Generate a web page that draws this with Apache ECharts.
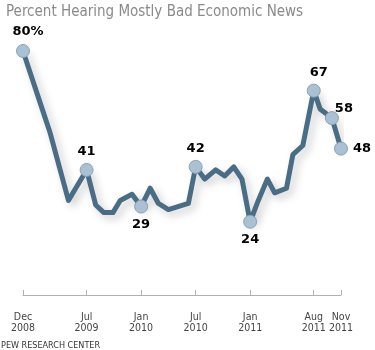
<!DOCTYPE html>
<html>
<head>
<meta charset="utf-8">
<script src="https://cdn.jsdelivr.net/npm/echarts@6/dist/echarts.min.js"></script>
<style>
html,body{margin:0;padding:0;background:#fff;}
#chart{width:375px;height:350px;}
</style>
</head>
<body>
<div id="chart"></div>
<script>
// Months since Dec 2008 (0 = Dec 2008, 35 = Nov 2011)
const months = [0, 1, 2, 3, 4, 5, 7, 8, 8.9, 9.9, 10.7, 12, 13, 14, 14.9, 16, 18.2, 19, 20, 21.2, 22.2, 23.2, 24.1, 25, 25.9, 26.9, 27.7, 29, 29.7, 30.8, 32, 32.7, 34, 35];
const values = [80, 71, 62, 53, 42, 31, 41, 29.5, 27, 27, 31, 33, 29, 35, 30, 28, 30, 42, 38, 41, 39, 42, 38, 24, 31, 38, 33.5, 35, 46, 49, 67, 61, 58, 48];
const tickMonths = [0, 7, 13, 19, 25, 32, 35];
const tickLabels = ['Dec\n2008', 'Jul\n2009', 'Jan\n2010', 'Jul\n2010', 'Jan\n2011', 'Aug\n2011', 'Nov\n2011'];
const labeledIdx = [0, 6, 12, 17, 23, 30, 32, 33];
const labelTexts = ['80%', '41', '29', '42', '24', '67', '58', '48'];

const labelPlacement = [
  {position: 'top', offset: [5, -2]},
  {position: 'top', offset: [0, -1]},
  {position: 'bottom', offset: [0, 1]},
  {position: 'top', offset: [0, -1]},
  {position: 'bottom', offset: [0, 0]},
  {position: 'top', offset: [5, -1]},
  {position: 'top', offset: [12, 8]},
  {position: 'right', offset: [1, 0]}
];

const lineData = months.map((m, i) => [m, values[i]]);
const pointData = labeledIdx.map((idx, k) => ({
  value: [months[idx], values[idx]],
  label: {
    show: true,
    formatter: labelTexts[k],
    position: labelPlacement[k].position,
    offset: labelPlacement[k].offset
  }
}));

const chart = echarts.init(document.getElementById('chart'), null, {renderer: 'canvas'});
chart.setOption({
  animation: false,
  backgroundColor: '#ffffff',
  title: {
    text: 'Percent Hearing Mostly Bad Economic News',
    left: 1, top: 0,
    textStyle: {fontFamily: 'DejaVu Sans Condensed', fontSize: 15, fontWeight: 'normal', color: '#8a8a8a'}
  },
  graphic: [{
    type: 'text', left: 1, top: 341,
    style: {text: 'PEW RESEARCH CENTER', fontFamily: 'DejaVu Sans Condensed', fontSize: 9, fill: '#333'}
  }],
  grid: {left: 23, right: 34, top: 51, bottom: 52},
  xAxis: {
    type: 'value', min: 0, max: 35,
    splitLine: {show: false},
    axisLine: {show: true, lineStyle: {color: '#b0b0b0', width: 1}},
    axisTick: {show: true, inside: true, length: 5, customValues: tickMonths, lineStyle: {color: '#b0b0b0'}},
    axisLabel: {
      customValues: tickMonths,
      formatter: v => tickLabels[tickMonths.indexOf(v)],
      margin: 14, lineHeight: 11,
      fontFamily: 'DejaVu Sans Condensed', fontSize: 10.5, color: '#444'
    }
  },
  yAxis: {
    type: 'value', min: -1, max: 80, show: false
  },
  series: [{
    type: 'line',
    data: lineData,
    symbol: 'none',
    lineStyle: {color: '#4a6d86', width: 5, join: 'round', cap: 'round',
      shadowColor: 'rgba(0,0,0,0.2)', shadowBlur: 8, shadowOffsetX: 4, shadowOffsetY: 4},
    z: 2
  }, {
    type: 'scatter',
    data: pointData,
    symbol: 'circle', symbolSize: 13,
    itemStyle: {color: '#a9c1d3', borderColor: '#8aa2b4', borderWidth: 1, opacity: 1},
    label: {fontFamily: 'DejaVu Sans', fontWeight: 'bold', fontSize: 13, color: '#000', distance: 4},
    z: 3
  }]
});
</script>
</body>
</html>
